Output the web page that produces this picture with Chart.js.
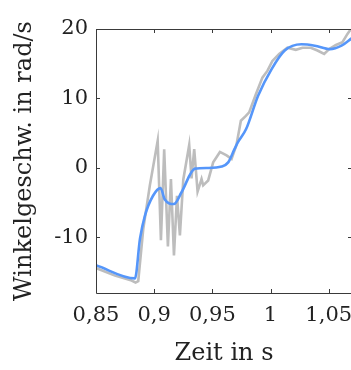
<!DOCTYPE html>
<html>
<head>
<meta charset="utf-8">
<script src="https://cdn.jsdelivr.net/npm/chart.js@4"></script>
<style>
  html, body { margin: 0; padding: 0; overflow: hidden; background: #fff; }
</style>
</head>
<body>
<canvas id="chart" width="356" height="370"></canvas>
<script>
// measured signal (grey)
const tMeas = [0.85, 0.8663, 0.8806, 0.884, 0.8863, 0.8906, 0.8963, 0.903, 0.9058, 0.9086,
  0.9118, 0.9144, 0.917, 0.9196, 0.9221, 0.925, 0.9301, 0.9321, 0.9344, 0.9373,
  0.9407, 0.9421, 0.9464, 0.9507, 0.9565, 0.9622, 0.9665, 0.9707, 0.9745, 0.9788,
  0.9816, 0.9874, 0.993, 0.9974, 1.0016, 1.0074, 1.0145, 1.0217, 1.0275, 1.0346,
  1.0403, 1.0461, 1.0504, 1.0562, 1.0618, 1.0661, 1.07];
const vMeas = [-14.4, -15.5, -16.2, -16.5, -16.3, -8.8, -2.5, 3.9, -10.4, 2.7,
  -11.3, -1.6, -12.6, -4.0, -9.7, -1.7, 3.3, -1.5, 2.7, -3.4,
  -1.6, -2.5, -1.8, 0.8, 2.3, 1.8, 1.3, 3.3, 6.8, 7.5,
  8.0, 10.6, 13.0, 14.0, 15.4, 16.4, 17.3, 17.0, 17.3, 17.3,
  16.9, 16.4, 17.1, 17.7, 18.1, 19.3, 20.2];

// model / filtered (blue)
const tModel = [0.85, 0.8835, 0.8878, 0.892, 0.899, 0.9055, 0.909, 0.917, 0.9235, 0.935,
  0.946, 0.958, 0.9636, 0.969, 0.972, 0.979, 0.9893, 1.0008, 1.0122, 1.0266,
  1.038, 1.051, 1.061, 1.07];
const vModel = [-14.0, -15.9, -10.2, -6.9, -4.0, -2.9, -4.5, -5.2, -3.5, -0.1,
  0.0, 0.2, 0.8, 2.7, 3.7, 5.6, 10.4, 14.2, 16.9, 17.8,
  17.6, 17.1, 17.6, 18.7];

const xTicks = [0.85, 0.9, 0.95, 1, 1.05];
const xTickLabels = ["0,85", "0,9", "0,95", "1", "1,05"];
const yTicks = [-10, 0, 10, 20];
const yTickLabels = ["-10", "0", "10", "20"];

function points(ts, vs) {
  return ts.map((t, i) => ({ x: t, y: vs[i] }));
}

const serif = "'DejaVu Serif', serif";

// box round the plot with inward ticks on all sides
const boxPlugin = {
  id: 'box',
  afterDatasetsDraw(chart) {
    const { ctx, chartArea: a, scales } = chart;
    const len = 4;
    ctx.save();
    ctx.strokeStyle = '#3a3a3a';
    ctx.lineWidth = 1;
    ctx.beginPath();
    ctx.rect(a.left + 0.5, a.top + 0.5, a.right - a.left, a.bottom - a.top);
    scales.x.ticks.forEach(tk => {
      const px = Math.round(scales.x.getPixelForValue(tk.value)) + 0.5;
      ctx.moveTo(px, a.bottom); ctx.lineTo(px, a.bottom - len);
      ctx.moveTo(px, a.top); ctx.lineTo(px, a.top + len);
    });
    scales.y.ticks.forEach(tk => {
      const py = Math.round(scales.y.getPixelForValue(tk.value)) + 0.5;
      ctx.moveTo(a.left, py); ctx.lineTo(a.left + len, py);
      ctx.moveTo(a.right, py); ctx.lineTo(a.right - len, py);
    });
    ctx.stroke();
    ctx.restore();
  }
};

new Chart(document.getElementById('chart'), {
  type: 'line',
  data: {
    datasets: [{
      label: 'Modell',
      data: points(tModel, vModel),
      borderColor: '#5596fa',
      borderWidth: 2.6,
      pointRadius: 0,
      cubicInterpolationMode: 'monotone'
    }, {
      label: 'Messung',
      data: points(tMeas, vMeas),
      borderColor: '#bdbdbd',
      borderWidth: 2.6,
      pointRadius: 0,
      tension: 0
    }]
  },
  plugins: [boxPlugin],
  options: {
    responsive: false,
    animation: false,
    parsing: false,
    layout: { padding: { left: 0, right: 4, top: 29, bottom: 0 } },
    plugins: { legend: { display: false }, tooltip: { enabled: false } },
    scales: {
      x: {
        type: 'linear',
        min: 0.85,
        max: 1.07,
        afterBuildTicks: s => { s.ticks = xTicks.map(v => ({ value: v })); },
        afterFit: s => { s.height = 77; s.paddingLeft = 0; s.paddingRight = 0; },
        grid: { display: false, drawTicks: false },
        border: { display: false },
        ticks: {
          padding: 10,
          color: '#222',
          font: { family: serif, size: 21 },
          callback: v => xTickLabels[xTicks.indexOf(v)]
        },
        title: {
          display: true,
          text: 'Zeit in s',
          color: '#222',
          font: { family: serif, size: 24 },
          padding: { top: 0, bottom: 2 }
        }
      },
      y: {
        type: 'linear',
        min: -18,
        max: 20,
        afterBuildTicks: s => { s.ticks = yTicks.map(v => ({ value: v })); },
        afterFit: s => { s.width = 96; s.paddingTop = 0; s.paddingBottom = 0; },
        grid: { display: false, drawTicks: false },
        border: { display: false },
        ticks: {
          padding: 8,
          color: '#222',
          font: { family: serif, size: 21 },
          callback: v => yTickLabels[yTicks.indexOf(v)]
        },
        title: {
          display: true,
          text: 'Winkelgeschw. in rad/s',
          color: '#222',
          font: { family: serif, size: 24 },
          padding: { top: 10, bottom: 0 }
        }
      }
    }
  }
});
</script>
</body>
</html>
